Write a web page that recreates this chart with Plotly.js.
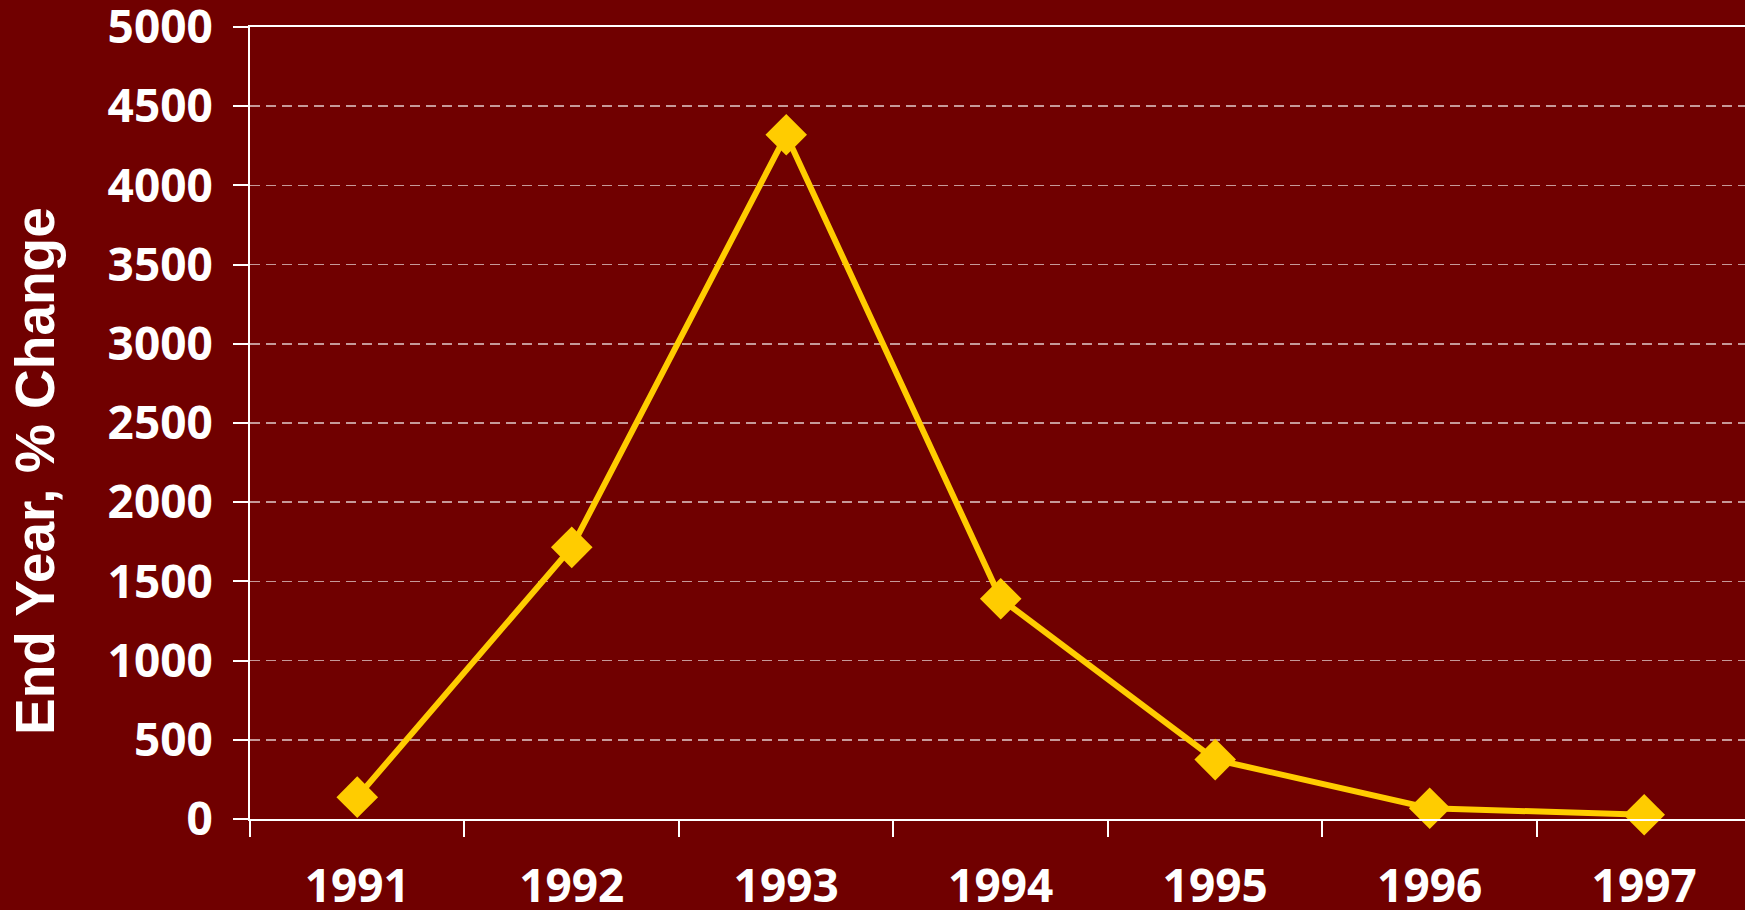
<!DOCTYPE html>
<html>
<head>
<meta charset="utf-8">
<script src="https://cdn.plot.ly/plotly-3.0.1.min.js"></script>
<style>
  html, body { margin: 0; padding: 0; background: #700000; }
  #chart { width: 1745px; height: 910px; }
</style>
</head>
<body>
<div id="chart"></div>
<script>
const years = ["1991", "1992", "1993", "1994", "1995", "1996", "1997"];
const pctChange = [138, 1715, 4320, 1390, 375, 68, 27];
const yTicks = [0, 500, 1000, 1500, 2000, 2500, 3000, 3500, 4000, 4500, 5000];
const yTitle = "End Year, % Change";

const bg = "#700000";
const gold = "#FFCC00";
const fontFam = "'Open Sans', 'Liberation Sans', Arial, sans-serif";

const trace = {
  x: years,
  y: pctChange,
  type: "scatter",
  mode: "lines+markers",
  line: { color: gold, width: 6 },
  marker: { symbol: "diamond", size: 32, color: gold },
  cliponaxis: false,
  hoverinfo: "x+y"
};

const layout = {
  width: 1745,
  height: 910,
  paper_bgcolor: bg,
  plot_bgcolor: bg,
  showlegend: false,
  margin: { l: 250, r: 0, t: 27, b: 91, pad: 0 },
  font: { family: fontFam, color: "#ffffff" },
  xaxis: {
    type: "category",
    range: [-0.5, 6.47],
    showgrid: false,
    showline: true,
    linecolor: "#ffffff",
    linewidth: 2,
    mirror: true,
    ticks: "outside",
    tickson: "boundaries",
    ticklen: 16,
    tickwidth: 2,
    tickcolor: "#ffffff",
    ticklabelstandoff: 26,
    ticklabeloverflow: "allow",
    tickfont: { family: fontFam, size: 46, color: "#ffffff", weight: 700 },
    zeroline: false
  },
  yaxis: {
    range: [0, 5000],
    tickvals: yTicks,
    ticktext: yTicks.map(String),
    showgrid: true,
    gridcolor: "rgba(255,255,255,0.6)",
    gridwidth: 1.5,
    griddash: "10px,6px",
    showline: true,
    linecolor: "#ffffff",
    linewidth: 2,
    ticks: "outside",
    ticklen: 15,
    tickwidth: 2,
    tickcolor: "#ffffff",
    ticklabelstandoff: 11,
    ticklabeloverflow: "allow",
    tickfont: { family: fontFam, size: 46, color: "#ffffff", weight: 700 },
    zeroline: false
  },
  annotations: [{
    text: yTitle,
    xref: "paper",
    yref: "paper",
    x: -0.1438,
    y: 0.4394,
    xanchor: "center",
    yanchor: "middle",
    textangle: -90,
    showarrow: false,
    font: { family: "'Liberation Sans', Arial, sans-serif", size: 55, color: "#ffffff", weight: 700 }
  }]
};

Plotly.newPlot("chart", [trace], layout, { displayModeBar: false, staticPlot: true });
</script>
</body>
</html>
